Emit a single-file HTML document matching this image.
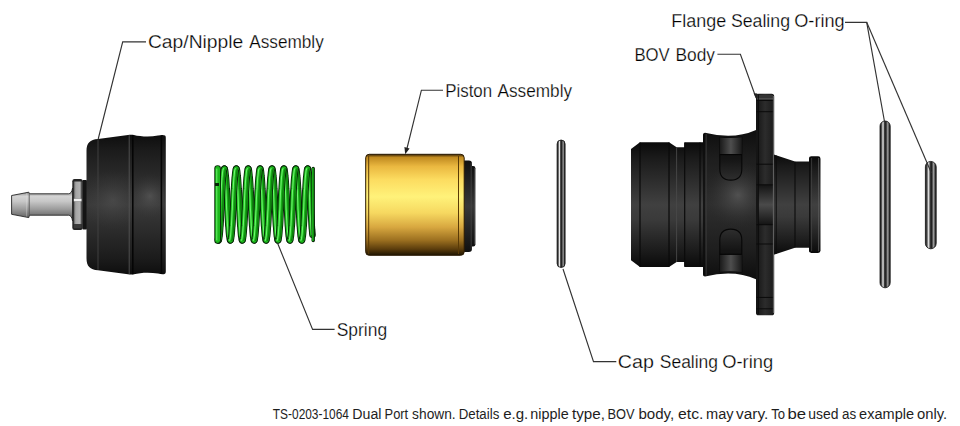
<!DOCTYPE html>
<html><head><meta charset="utf-8">
<style>
html,body{margin:0;padding:0;background:#fff;width:960px;height:426px;overflow:hidden}
svg{display:block}
#bottomtext text{stroke:none;fill:#1e1e1e}
text{font-family:"Liberation Sans",sans-serif;fill:#000;stroke:#fff;stroke-width:0.25px}
</style></head>
<body>
<svg width="960" height="426" viewBox="0 0 960 426">
<defs>
  <linearGradient id="gCap" x1="0" y1="0" x2="0" y2="1">
    <stop offset="0" stop-color="#0e0e0e"/>
    <stop offset="0.12" stop-color="#1c1c1c"/>
    <stop offset="0.5" stop-color="#3a3a3a"/>
    <stop offset="0.88" stop-color="#1c1c1c"/>
    <stop offset="1" stop-color="#0e0e0e"/>
  </linearGradient>
  <linearGradient id="gNip" x1="0" y1="0" x2="0" y2="1">
    <stop offset="0" stop-color="#3a3a3a"/>
    <stop offset="0.1" stop-color="#7a7a7a"/>
    <stop offset="0.25" stop-color="#d4d4d4"/>
    <stop offset="0.4" stop-color="#c8c8c8"/>
    <stop offset="0.65" stop-color="#9a9a9a"/>
    <stop offset="0.87" stop-color="#6a6a6a"/>
    <stop offset="1" stop-color="#383838"/>
  </linearGradient>
  <linearGradient id="gHex" x1="0" y1="0" x2="1" y2="0">
    <stop offset="0" stop-color="#5a5a5a"/>
    <stop offset="0.25" stop-color="#a4a4a4"/>
    <stop offset="0.75" stop-color="#b0b0b0"/>
    <stop offset="1" stop-color="#6a6a6a"/>
  </linearGradient>
  <linearGradient id="gGold" x1="0" y1="0" x2="0" y2="1">
    <stop offset="0" stop-color="#3a2404"/>
    <stop offset="0.03" stop-color="#c08a20"/>
    <stop offset="0.12" stop-color="#eab840"/>
    <stop offset="0.25" stop-color="#fcdc60"/>
    <stop offset="0.42" stop-color="#fff27a"/>
    <stop offset="0.58" stop-color="#f6d860"/>
    <stop offset="0.72" stop-color="#d8a840"/>
    <stop offset="0.85" stop-color="#9c7020"/>
    <stop offset="0.94" stop-color="#5a3c0c"/>
    <stop offset="1" stop-color="#1e1402"/>
  </linearGradient>
  <linearGradient id="gBlk" x1="0" y1="0" x2="0" y2="1">
    <stop offset="0" stop-color="#101010"/>
    <stop offset="0.5" stop-color="#383838"/>
    <stop offset="1" stop-color="#101010"/>
  </linearGradient>
  <linearGradient id="gRing" x1="0" y1="0" x2="1" y2="0">
    <stop offset="0" stop-color="#111"/>
    <stop offset="0.14" stop-color="#4a4a4a"/>
    <stop offset="0.3" stop-color="#e8e8e8"/>
    <stop offset="0.44" stop-color="#3a3a3a"/>
    <stop offset="0.58" stop-color="#1e1e1e"/>
    <stop offset="0.76" stop-color="#a0a0a0"/>
    <stop offset="0.9" stop-color="#3a3a3a"/>
    <stop offset="1" stop-color="#111"/>
  </linearGradient>
  <linearGradient id="gBov" x1="0" y1="0" x2="0" y2="1">
    <stop offset="0" stop-color="#0a0a0a"/>
    <stop offset="0.12" stop-color="#1a1a1a"/>
    <stop offset="0.5" stop-color="#404040"/>
    <stop offset="0.62" stop-color="#3a3a3a"/>
    <stop offset="0.88" stop-color="#1a1a1a"/>
    <stop offset="1" stop-color="#0a0a0a"/>
  </linearGradient>
  <linearGradient id="gBody" x1="0" y1="0" x2="0" y2="1">
    <stop offset="0" stop-color="#0e0e0e"/>
    <stop offset="0.2" stop-color="#1e1e1e"/>
    <stop offset="0.5" stop-color="#2e2e2e"/>
    <stop offset="0.8" stop-color="#1e1e1e"/>
    <stop offset="1" stop-color="#0e0e0e"/>
  </linearGradient>
  <radialGradient id="gBodyR" gradientUnits="userSpaceOnUse" cx="738" cy="195" r="34" fx="738" fy="195">
    <stop offset="0" stop-color="#6a6a6a" stop-opacity="0.6"/>
    <stop offset="0.5" stop-color="#505050" stop-opacity="0.3"/>
    <stop offset="1" stop-color="#303030" stop-opacity="0"/>
  </radialGradient>
  <linearGradient id="gLip" x1="0" y1="0" x2="1" y2="0">
    <stop offset="0" stop-color="#1a1a1a"/>
    <stop offset="0.5" stop-color="#4e4e4e"/>
    <stop offset="1" stop-color="#1a1a1a"/>
  </linearGradient>
  <linearGradient id="gFl" x1="0" y1="0" x2="1" y2="0">
    <stop offset="0" stop-color="#141414"/>
    <stop offset="0.5" stop-color="#2c2c2c"/>
    <stop offset="1" stop-color="#1a1a1a"/>
  </linearGradient>
  <linearGradient id="gBump" x1="0" y1="0" x2="0" y2="1">
    <stop offset="0" stop-color="#141414"/>
    <stop offset="0.5" stop-color="#4a4a4a"/>
    <stop offset="1" stop-color="#141414"/>
  </linearGradient>
  <linearGradient id="gHole" x1="0" y1="0" x2="0" y2="1">
    <stop offset="0" stop-color="#111"/>
    <stop offset="0.5" stop-color="#141414"/>
    <stop offset="1" stop-color="#2e2e2e"/>
  </linearGradient>
  <linearGradient id="gHole2" x1="0" y1="1" x2="0" y2="0">
    <stop offset="0" stop-color="#111"/>
    <stop offset="0.5" stop-color="#141414"/>
    <stop offset="1" stop-color="#2e2e2e"/>
  </linearGradient>
  <radialGradient id="gCapR1" gradientUnits="userSpaceOnUse" cx="113" cy="200" r="30">
    <stop offset="0" stop-color="#666" stop-opacity="0.35"/>
    <stop offset="1" stop-color="#444" stop-opacity="0"/>
  </radialGradient>
  <radialGradient id="gCapR2" gradientUnits="userSpaceOnUse" cx="150" cy="196" r="22">
    <stop offset="0" stop-color="#777" stop-opacity="0.4"/>
    <stop offset="1" stop-color="#444" stop-opacity="0"/>
  </radialGradient>
</defs>

<!-- ===== Labels ===== -->
<g id="labels" font-size="18">
  <text x="147.91" y="48.4" textLength="95.45" lengthAdjust="spacingAndGlyphs">Cap/Nipple</text>
  <text x="249.25" y="48.4" textLength="74.55" lengthAdjust="spacingAndGlyphs">Assembly</text>
  <text x="445.23" y="97.1" textLength="46.87" lengthAdjust="spacingAndGlyphs">Piston</text>
  <text x="497.55" y="97.1" textLength="74.50" lengthAdjust="spacingAndGlyphs">Assembly</text>
  <text x="634.44" y="60.9" textLength="35.34" lengthAdjust="spacingAndGlyphs">BOV</text>
  <text x="675.59" y="60.9" textLength="39.45" lengthAdjust="spacingAndGlyphs">Body</text>
  <text x="671.34" y="26.9" textLength="54.86" lengthAdjust="spacingAndGlyphs">Flange</text>
  <text x="730.89" y="26.9" textLength="59.15" lengthAdjust="spacingAndGlyphs">Sealing</text>
  <text x="794.24" y="26.9" textLength="50.42" lengthAdjust="spacingAndGlyphs">O-ring</text>
  <text x="336.70" y="335.6" textLength="50.43" lengthAdjust="spacingAndGlyphs">Spring</text>
  <text x="617.79" y="368.2" textLength="36.13" lengthAdjust="spacingAndGlyphs">Cap</text>
  <text x="659.80" y="368.2" textLength="58.22" lengthAdjust="spacingAndGlyphs">Sealing</text>
  <text x="722.24" y="368.2" textLength="50.83" lengthAdjust="spacingAndGlyphs">O-ring</text>
</g>
<g id="bottomtext" font-size="14">
  <text x="272.83" y="418.8" textLength="76.12" lengthAdjust="spacingAndGlyphs">TS-0203-1064</text>
  <text x="352.34" y="418.8" textLength="29.20" lengthAdjust="spacingAndGlyphs">Dual</text>
  <text x="384.55" y="418.8" textLength="23.66" lengthAdjust="spacingAndGlyphs">Port</text>
  <text x="412.11" y="418.8" textLength="43.55" lengthAdjust="spacingAndGlyphs">shown.</text>
  <text x="458.72" y="418.8" textLength="40.55" lengthAdjust="spacingAndGlyphs">Details</text>
  <text x="503.15" y="418.8" textLength="25.11" lengthAdjust="spacingAndGlyphs">e.g.</text>
  <text x="530.33" y="418.8" textLength="38.41" lengthAdjust="spacingAndGlyphs">nipple</text>
  <text x="572.06" y="418.8" textLength="32.90" lengthAdjust="spacingAndGlyphs">type,</text>
  <text x="607.45" y="418.8" textLength="27.11" lengthAdjust="spacingAndGlyphs">BOV</text>
  <text x="638.43" y="418.8" textLength="35.82" lengthAdjust="spacingAndGlyphs">body,</text>
  <text x="678.12" y="418.8" textLength="25.40" lengthAdjust="spacingAndGlyphs">etc.</text>
  <text x="706.02" y="418.8" textLength="27.53" lengthAdjust="spacingAndGlyphs">may</text>
  <text x="736.03" y="418.8" textLength="32.28" lengthAdjust="spacingAndGlyphs">vary.</text>
  <text x="771.30" y="418.8" textLength="13.85" lengthAdjust="spacingAndGlyphs">To</text>
  <text x="787.52" y="418.8" textLength="18.63" lengthAdjust="spacingAndGlyphs">be</text>
  <text x="808.21" y="418.8" textLength="30.19" lengthAdjust="spacingAndGlyphs">used</text>
  <text x="842.03" y="418.8" textLength="14.16" lengthAdjust="spacingAndGlyphs">as</text>
  <text x="859.08" y="418.8" textLength="54.96" lengthAdjust="spacingAndGlyphs">example</text>
  <text x="917.09" y="418.8" textLength="30.16" lengthAdjust="spacingAndGlyphs">only.</text>
</g>

<!-- ===== Cap / Nipple ===== -->
<g id="nipple">
  <path d="M11.6,195.5 L28.8,192.2 L29.4,193.8 L68.5,193.8 Q71.6,193.8 72.6,188 L72.6,221 Q71.6,215.2 68.5,215.2 L29.4,215.2 L28.8,217.6 L11.6,214.3 Z" fill="url(#gNip)" stroke="#262626" stroke-width="0.9"/>
  <path d="M29.2,194.2 L29.2,214.8" stroke="#4a4a4a" stroke-width="0.8"/>
  <path d="M26.4,193 L26.4,216.6" stroke="#e0e0e0" stroke-width="0.6" opacity="0.6"/>
  <rect x="72.3" y="179" width="10.4" height="51" rx="2.2" fill="#242424"/>
  <rect x="73.8" y="181.5" width="7.8" height="17.2" fill="url(#gHex)"/>
  <rect x="73.8" y="201.4" width="7.8" height="22.8" fill="url(#gHex)"/>
  <rect x="73.8" y="198.7" width="7.8" height="2.7" fill="#f2f2f2"/>
  <rect x="73.8" y="224.2" width="7.8" height="4" fill="#3a3a3a"/>
  <rect x="82.4" y="180" width="4.6" height="49.4" rx="1" fill="#141414"/>
</g>
<g id="cap">
  <path d="M86.5,151 C86.5,143 90,139.6 98,139 L128,135 C130,134.6 132,134.6 134,135 C140,136.6 150,137.2 158,135.6 C161,134.9 163.5,134.6 165,135.5 C165.8,136.2 165.8,137 165.8,138.5 L165.8,270.7 C165.8,272.2 165.8,273 165,273.7 C163.5,274.6 161,274.3 158,273.6 C150,272 140,272.6 134,274.2 C132,274.6 130,274.6 128,274.2 L98,270.2 C90,269.6 86.5,266.2 86.5,258.2 Z" fill="url(#gCap)"/>
  <rect x="87" y="150" width="45" height="110" fill="url(#gCapR1)"/>
  <rect x="134" y="150" width="30" height="100" fill="url(#gCapR2)"/>
  <path d="M98,139.5 L98,269.7" stroke="#444" stroke-width="0.9"/>
  <path d="M129.2,135.2 L129.2,274" stroke="#555" stroke-width="0.9"/>
  <path d="M132.8,135 L132.8,274.3" stroke="#050505" stroke-width="1.5"/>
  <path d="M161.4,135.3 L161.4,274" stroke="#050505" stroke-width="1.5"/>
</g>

<!-- ===== Spring ===== -->
<g id="spring" fill="none" stroke-linejoin="round" stroke-linecap="round">
  <path d="M218.0,239.4 L218.1,239.8 L218.2,240.1 L218.3,240.2 L218.5,240.3 M224.4,168.7 L224.5,168.8 L224.6,168.9 L224.7,169.2 L224.8,169.6 L225.0,170.0 L225.1,170.6 L225.2,171.3 L225.3,172.1 L225.4,173.0 L225.5,174.0 L225.6,175.0 L225.7,176.2 L225.9,177.5 L226.0,178.9 L226.1,180.3 L226.2,181.9 L226.3,183.5 L226.4,185.2 L226.5,187.0 L226.6,188.9 L226.8,190.9 L226.9,193.0 L227.0,195.2 L227.1,197.5 L227.2,199.9 L227.3,202.7 L227.4,206.3 L227.5,209.1 L227.7,211.5 L227.8,213.8 L227.9,216.0 L228.0,218.1 L228.1,220.1 L228.2,222.0 L228.3,223.8 L228.4,225.5 L228.6,227.1 L228.7,228.7 L228.8,230.1 L228.9,231.5 L229.0,232.8 L229.1,234.0 L229.2,235.0 L229.3,236.0 L229.5,236.9 L229.6,237.7 L229.7,238.4 L229.8,239.0 L229.9,239.4 L230.0,239.8 L230.1,240.1 L230.2,240.2 L230.3,240.3 M236.3,168.7 L236.4,168.8 L236.5,168.9 L236.6,169.2 L236.7,169.6 L236.9,170.0 L237.0,170.6 L237.1,171.3 L237.2,172.1 L237.3,173.0 L237.4,174.0 L237.5,175.0 L237.6,176.2 L237.8,177.5 L237.9,178.9 L238.0,180.3 L238.1,181.9 L238.2,183.5 L238.3,185.2 L238.4,187.0 L238.5,188.9 L238.7,190.9 L238.8,193.0 L238.9,195.2 L239.0,197.5 L239.1,199.9 L239.2,202.7 L239.3,206.3 L239.4,209.1 L239.6,211.5 L239.7,213.8 L239.8,216.0 L239.9,218.1 L240.0,220.1 L240.1,222.0 L240.2,223.8 L240.3,225.5 L240.5,227.1 L240.6,228.7 L240.7,230.1 L240.8,231.5 L240.9,232.8 L241.0,234.0 L241.1,235.0 L241.2,236.0 L241.4,236.9 L241.5,237.7 L241.6,238.4 L241.7,239.0 L241.8,239.4 L241.9,239.8 L242.0,240.1 L242.1,240.2 L242.2,240.3 M248.2,168.7 L248.3,168.8 L248.4,168.9 L248.5,169.2 L248.6,169.6 L248.8,170.0 L248.9,170.6 L249.0,171.3 L249.1,172.1 L249.2,173.0 L249.3,174.0 L249.4,175.0 L249.5,176.2 L249.7,177.5 L249.8,178.9 L249.9,180.3 L250.0,181.9 L250.1,183.5 L250.2,185.2 L250.3,187.0 L250.4,188.9 L250.6,190.9 L250.7,193.0 L250.8,195.2 L250.9,197.5 L251.0,199.9 L251.1,202.7 L251.2,206.3 L251.3,209.1 L251.5,211.5 L251.6,213.8 L251.7,216.0 L251.8,218.1 L251.9,220.1 L252.0,222.0 L252.1,223.8 L252.2,225.5 L252.4,227.1 L252.5,228.7 L252.6,230.1 L252.7,231.5 L252.8,232.8 L252.9,234.0 L253.0,235.0 L253.1,236.0 L253.3,236.9 L253.4,237.7 L253.5,238.4 L253.6,239.0 L253.7,239.4 L253.8,239.8 L253.9,240.1 L254.0,240.2 L254.2,240.3 M260.1,168.7 L260.2,168.8 L260.3,168.9 L260.4,169.2 L260.5,169.6 L260.7,170.0 L260.8,170.6 L260.9,171.3 L261.0,172.1 L261.1,173.0 L261.2,174.0 L261.3,175.0 L261.4,176.2 L261.6,177.5 L261.7,178.9 L261.8,180.3 L261.9,181.9 L262.0,183.5 L262.1,185.2 L262.2,187.0 L262.3,188.9 L262.5,190.9 L262.6,193.0 L262.7,195.2 L262.8,197.5 L262.9,199.9 L263.0,202.7 L263.1,206.3 L263.2,209.1 L263.4,211.5 L263.5,213.8 L263.6,216.0 L263.7,218.1 L263.8,220.1 L263.9,222.0 L264.0,223.8 L264.1,225.5 L264.3,227.1 L264.4,228.7 L264.5,230.1 L264.6,231.5 L264.7,232.8 L264.8,234.0 L264.9,235.0 L265.0,236.0 L265.2,236.9 L265.3,237.7 L265.4,238.4 L265.5,239.0 L265.6,239.4 L265.7,239.8 L265.8,240.1 L265.9,240.2 L266.1,240.3 M272.0,168.7 L272.1,168.8 L272.2,168.9 L272.3,169.2 L272.4,169.6 L272.6,170.0 L272.7,170.6 L272.8,171.3 L272.9,172.1 L273.0,173.0 L273.1,174.0 L273.2,175.0 L273.3,176.2 L273.5,177.5 L273.6,178.9 L273.7,180.3 L273.8,181.9 L273.9,183.5 L274.0,185.2 L274.1,187.0 L274.2,188.9 L274.4,190.9 L274.5,193.0 L274.6,195.2 L274.7,197.5 L274.8,199.9 L274.9,202.7 L275.0,206.3 L275.1,209.1 L275.3,211.5 L275.4,213.8 L275.5,216.0 L275.6,218.1 L275.7,220.1 L275.8,222.0 L275.9,223.8 L276.0,225.5 L276.2,227.1 L276.3,228.7 L276.4,230.1 L276.5,231.5 L276.6,232.8 L276.7,234.0 L276.8,235.0 L276.9,236.0 L277.1,236.9 L277.2,237.7 L277.3,238.4 L277.4,239.0 L277.5,239.4 L277.6,239.8 L277.7,240.1 L277.8,240.2 L277.9,240.3 M283.9,168.7 L284.0,168.8 L284.1,168.9 L284.2,169.2 L284.3,169.6 L284.5,170.0 L284.6,170.6 L284.7,171.3 L284.8,172.1 L284.9,173.0 L285.0,174.0 L285.1,175.0 L285.2,176.2 L285.4,177.5 L285.5,178.9 L285.6,180.3 L285.7,181.9 L285.8,183.5 L285.9,185.2 L286.0,187.0 L286.1,188.9 L286.3,190.9 L286.4,193.0 L286.5,195.2 L286.6,197.5 L286.7,199.9 L286.8,202.7 L286.9,206.3 L287.0,209.1 L287.2,211.5 L287.3,213.8 L287.4,216.0 L287.5,218.1 L287.6,220.1 L287.7,222.0 L287.8,223.8 L287.9,225.5 L288.1,227.1 L288.2,228.7 L288.3,230.1 L288.4,231.5 L288.5,232.8 L288.6,234.0 L288.7,235.0 L288.8,236.0 L289.0,236.9 L289.1,237.7 L289.2,238.4 L289.3,239.0 L289.4,239.4 L289.5,239.8 L289.6,240.1 L289.7,240.2 L289.9,240.3 M295.8,168.7 L295.9,168.8 L296.0,168.9 L296.1,169.2 L296.2,169.6 L296.4,170.0 L296.5,170.6 L296.6,171.3 L296.7,172.1 L296.8,173.0 L296.9,174.0 L297.0,175.0 L297.1,176.2 L297.3,177.5 L297.4,178.9 L297.5,180.3 L297.6,181.9 L297.7,183.5 L297.8,185.2 L297.9,187.0 L298.0,188.9 L298.2,190.9 L298.3,193.0 L298.4,195.2 L298.5,197.5 L298.6,199.9 L298.7,202.7 L298.8,206.3 L298.9,209.1 L299.1,211.5 L299.2,213.8 L299.3,216.0 L299.4,218.1 L299.5,220.1 L299.6,222.0 L299.7,223.8 L299.8,225.5 L300.0,227.1 L300.1,228.7 L300.2,230.1 L300.3,231.5 L300.4,232.8 L300.5,234.0 L300.6,235.0 L300.7,236.0 L300.9,236.9 L301.0,237.7 L301.1,238.4 L301.2,239.0 L301.3,239.4 L301.4,239.8 L301.5,240.1 L301.6,240.2 L301.8,240.3 M307.7,168.7 L307.8,168.8 L307.9,168.9 L308.0,169.2 L308.1,169.5 L308.3,170.0 L308.4,170.6 L308.5,171.3 L308.6,172.0 L308.7,172.9 L308.8,173.9 L308.9,175.0 L309.0,176.1 L309.2,177.4 L309.3,178.8 L309.4,180.2 L309.5,181.7 L309.6,183.3 L309.7,185.0 L309.8,186.8 L309.9,188.7 L310.0,190.7 L310.2,192.7 L310.3,194.9 L310.4,197.1 L310.5,199.6 L310.6,202.3 L310.7,205.8 L310.8,208.7 L310.9,211.1 L311.0,213.5 L311.2,215.7 L311.3,217.7 L311.4,219.7 L311.5,221.6 L311.6,223.4 L311.7,225.2 L311.8,226.8 L311.9,228.4 L312.1,229.8 L312.2,231.2 L312.3,232.5 L312.4,233.7 L312.5,234.8" stroke="#062406" stroke-width="6.6"/>
  <path d="M218.0,239.4 L218.1,239.8 L218.2,240.1 L218.3,240.2 L218.5,240.3 M224.4,168.7 L224.5,168.8 L224.6,168.9 L224.7,169.2 L224.8,169.6 L225.0,170.0 L225.1,170.6 L225.2,171.3 L225.3,172.1 L225.4,173.0 L225.5,174.0 L225.6,175.0 L225.7,176.2 L225.9,177.5 L226.0,178.9 L226.1,180.3 L226.2,181.9 L226.3,183.5 L226.4,185.2 L226.5,187.0 L226.6,188.9 L226.8,190.9 L226.9,193.0 L227.0,195.2 L227.1,197.5 L227.2,199.9 L227.3,202.7 L227.4,206.3 L227.5,209.1 L227.7,211.5 L227.8,213.8 L227.9,216.0 L228.0,218.1 L228.1,220.1 L228.2,222.0 L228.3,223.8 L228.4,225.5 L228.6,227.1 L228.7,228.7 L228.8,230.1 L228.9,231.5 L229.0,232.8 L229.1,234.0 L229.2,235.0 L229.3,236.0 L229.5,236.9 L229.6,237.7 L229.7,238.4 L229.8,239.0 L229.9,239.4 L230.0,239.8 L230.1,240.1 L230.2,240.2 L230.3,240.3 M236.3,168.7 L236.4,168.8 L236.5,168.9 L236.6,169.2 L236.7,169.6 L236.9,170.0 L237.0,170.6 L237.1,171.3 L237.2,172.1 L237.3,173.0 L237.4,174.0 L237.5,175.0 L237.6,176.2 L237.8,177.5 L237.9,178.9 L238.0,180.3 L238.1,181.9 L238.2,183.5 L238.3,185.2 L238.4,187.0 L238.5,188.9 L238.7,190.9 L238.8,193.0 L238.9,195.2 L239.0,197.5 L239.1,199.9 L239.2,202.7 L239.3,206.3 L239.4,209.1 L239.6,211.5 L239.7,213.8 L239.8,216.0 L239.9,218.1 L240.0,220.1 L240.1,222.0 L240.2,223.8 L240.3,225.5 L240.5,227.1 L240.6,228.7 L240.7,230.1 L240.8,231.5 L240.9,232.8 L241.0,234.0 L241.1,235.0 L241.2,236.0 L241.4,236.9 L241.5,237.7 L241.6,238.4 L241.7,239.0 L241.8,239.4 L241.9,239.8 L242.0,240.1 L242.1,240.2 L242.2,240.3 M248.2,168.7 L248.3,168.8 L248.4,168.9 L248.5,169.2 L248.6,169.6 L248.8,170.0 L248.9,170.6 L249.0,171.3 L249.1,172.1 L249.2,173.0 L249.3,174.0 L249.4,175.0 L249.5,176.2 L249.7,177.5 L249.8,178.9 L249.9,180.3 L250.0,181.9 L250.1,183.5 L250.2,185.2 L250.3,187.0 L250.4,188.9 L250.6,190.9 L250.7,193.0 L250.8,195.2 L250.9,197.5 L251.0,199.9 L251.1,202.7 L251.2,206.3 L251.3,209.1 L251.5,211.5 L251.6,213.8 L251.7,216.0 L251.8,218.1 L251.9,220.1 L252.0,222.0 L252.1,223.8 L252.2,225.5 L252.4,227.1 L252.5,228.7 L252.6,230.1 L252.7,231.5 L252.8,232.8 L252.9,234.0 L253.0,235.0 L253.1,236.0 L253.3,236.9 L253.4,237.7 L253.5,238.4 L253.6,239.0 L253.7,239.4 L253.8,239.8 L253.9,240.1 L254.0,240.2 L254.2,240.3 M260.1,168.7 L260.2,168.8 L260.3,168.9 L260.4,169.2 L260.5,169.6 L260.7,170.0 L260.8,170.6 L260.9,171.3 L261.0,172.1 L261.1,173.0 L261.2,174.0 L261.3,175.0 L261.4,176.2 L261.6,177.5 L261.7,178.9 L261.8,180.3 L261.9,181.9 L262.0,183.5 L262.1,185.2 L262.2,187.0 L262.3,188.9 L262.5,190.9 L262.6,193.0 L262.7,195.2 L262.8,197.5 L262.9,199.9 L263.0,202.7 L263.1,206.3 L263.2,209.1 L263.4,211.5 L263.5,213.8 L263.6,216.0 L263.7,218.1 L263.8,220.1 L263.9,222.0 L264.0,223.8 L264.1,225.5 L264.3,227.1 L264.4,228.7 L264.5,230.1 L264.6,231.5 L264.7,232.8 L264.8,234.0 L264.9,235.0 L265.0,236.0 L265.2,236.9 L265.3,237.7 L265.4,238.4 L265.5,239.0 L265.6,239.4 L265.7,239.8 L265.8,240.1 L265.9,240.2 L266.1,240.3 M272.0,168.7 L272.1,168.8 L272.2,168.9 L272.3,169.2 L272.4,169.6 L272.6,170.0 L272.7,170.6 L272.8,171.3 L272.9,172.1 L273.0,173.0 L273.1,174.0 L273.2,175.0 L273.3,176.2 L273.5,177.5 L273.6,178.9 L273.7,180.3 L273.8,181.9 L273.9,183.5 L274.0,185.2 L274.1,187.0 L274.2,188.9 L274.4,190.9 L274.5,193.0 L274.6,195.2 L274.7,197.5 L274.8,199.9 L274.9,202.7 L275.0,206.3 L275.1,209.1 L275.3,211.5 L275.4,213.8 L275.5,216.0 L275.6,218.1 L275.7,220.1 L275.8,222.0 L275.9,223.8 L276.0,225.5 L276.2,227.1 L276.3,228.7 L276.4,230.1 L276.5,231.5 L276.6,232.8 L276.7,234.0 L276.8,235.0 L276.9,236.0 L277.1,236.9 L277.2,237.7 L277.3,238.4 L277.4,239.0 L277.5,239.4 L277.6,239.8 L277.7,240.1 L277.8,240.2 L277.9,240.3 M283.9,168.7 L284.0,168.8 L284.1,168.9 L284.2,169.2 L284.3,169.6 L284.5,170.0 L284.6,170.6 L284.7,171.3 L284.8,172.1 L284.9,173.0 L285.0,174.0 L285.1,175.0 L285.2,176.2 L285.4,177.5 L285.5,178.9 L285.6,180.3 L285.7,181.9 L285.8,183.5 L285.9,185.2 L286.0,187.0 L286.1,188.9 L286.3,190.9 L286.4,193.0 L286.5,195.2 L286.6,197.5 L286.7,199.9 L286.8,202.7 L286.9,206.3 L287.0,209.1 L287.2,211.5 L287.3,213.8 L287.4,216.0 L287.5,218.1 L287.6,220.1 L287.7,222.0 L287.8,223.8 L287.9,225.5 L288.1,227.1 L288.2,228.7 L288.3,230.1 L288.4,231.5 L288.5,232.8 L288.6,234.0 L288.7,235.0 L288.8,236.0 L289.0,236.9 L289.1,237.7 L289.2,238.4 L289.3,239.0 L289.4,239.4 L289.5,239.8 L289.6,240.1 L289.7,240.2 L289.9,240.3 M295.8,168.7 L295.9,168.8 L296.0,168.9 L296.1,169.2 L296.2,169.6 L296.4,170.0 L296.5,170.6 L296.6,171.3 L296.7,172.1 L296.8,173.0 L296.9,174.0 L297.0,175.0 L297.1,176.2 L297.3,177.5 L297.4,178.9 L297.5,180.3 L297.6,181.9 L297.7,183.5 L297.8,185.2 L297.9,187.0 L298.0,188.9 L298.2,190.9 L298.3,193.0 L298.4,195.2 L298.5,197.5 L298.6,199.9 L298.7,202.7 L298.8,206.3 L298.9,209.1 L299.1,211.5 L299.2,213.8 L299.3,216.0 L299.4,218.1 L299.5,220.1 L299.6,222.0 L299.7,223.8 L299.8,225.5 L300.0,227.1 L300.1,228.7 L300.2,230.1 L300.3,231.5 L300.4,232.8 L300.5,234.0 L300.6,235.0 L300.7,236.0 L300.9,236.9 L301.0,237.7 L301.1,238.4 L301.2,239.0 L301.3,239.4 L301.4,239.8 L301.5,240.1 L301.6,240.2 L301.8,240.3 M307.7,168.7 L307.8,168.8 L307.9,168.9 L308.0,169.2 L308.1,169.5 L308.3,170.0 L308.4,170.6 L308.5,171.3 L308.6,172.0 L308.7,172.9 L308.8,173.9 L308.9,175.0 L309.0,176.1 L309.2,177.4 L309.3,178.8 L309.4,180.2 L309.5,181.7 L309.6,183.3 L309.7,185.0 L309.8,186.8 L309.9,188.7 L310.0,190.7 L310.2,192.7 L310.3,194.9 L310.4,197.1 L310.5,199.6 L310.6,202.3 L310.7,205.8 L310.8,208.7 L310.9,211.1 L311.0,213.5 L311.2,215.7 L311.3,217.7 L311.4,219.7 L311.5,221.6 L311.6,223.4 L311.7,225.2 L311.8,226.8 L311.9,228.4 L312.1,229.8 L312.2,231.2 L312.3,232.5 L312.4,233.7 L312.5,234.8" stroke="#1cb81c" stroke-width="4.8"/>
  <path d="M218.0,239.4 L218.1,239.8 L218.2,240.1 L218.3,240.2 L218.5,240.3 M224.4,168.7 L224.5,168.8 L224.6,168.9 L224.7,169.2 L224.8,169.6 L225.0,170.0 L225.1,170.6 L225.2,171.3 L225.3,172.1 L225.4,173.0 L225.5,174.0 L225.6,175.0 L225.7,176.2 L225.9,177.5 L226.0,178.9 L226.1,180.3 L226.2,181.9 L226.3,183.5 L226.4,185.2 L226.5,187.0 L226.6,188.9 L226.8,190.9 L226.9,193.0 L227.0,195.2 L227.1,197.5 L227.2,199.9 L227.3,202.7 L227.4,206.3 L227.5,209.1 L227.7,211.5 L227.8,213.8 L227.9,216.0 L228.0,218.1 L228.1,220.1 L228.2,222.0 L228.3,223.8 L228.4,225.5 L228.6,227.1 L228.7,228.7 L228.8,230.1 L228.9,231.5 L229.0,232.8 L229.1,234.0 L229.2,235.0 L229.3,236.0 L229.5,236.9 L229.6,237.7 L229.7,238.4 L229.8,239.0 L229.9,239.4 L230.0,239.8 L230.1,240.1 L230.2,240.2 L230.3,240.3 M236.3,168.7 L236.4,168.8 L236.5,168.9 L236.6,169.2 L236.7,169.6 L236.9,170.0 L237.0,170.6 L237.1,171.3 L237.2,172.1 L237.3,173.0 L237.4,174.0 L237.5,175.0 L237.6,176.2 L237.8,177.5 L237.9,178.9 L238.0,180.3 L238.1,181.9 L238.2,183.5 L238.3,185.2 L238.4,187.0 L238.5,188.9 L238.7,190.9 L238.8,193.0 L238.9,195.2 L239.0,197.5 L239.1,199.9 L239.2,202.7 L239.3,206.3 L239.4,209.1 L239.6,211.5 L239.7,213.8 L239.8,216.0 L239.9,218.1 L240.0,220.1 L240.1,222.0 L240.2,223.8 L240.3,225.5 L240.5,227.1 L240.6,228.7 L240.7,230.1 L240.8,231.5 L240.9,232.8 L241.0,234.0 L241.1,235.0 L241.2,236.0 L241.4,236.9 L241.5,237.7 L241.6,238.4 L241.7,239.0 L241.8,239.4 L241.9,239.8 L242.0,240.1 L242.1,240.2 L242.2,240.3 M248.2,168.7 L248.3,168.8 L248.4,168.9 L248.5,169.2 L248.6,169.6 L248.8,170.0 L248.9,170.6 L249.0,171.3 L249.1,172.1 L249.2,173.0 L249.3,174.0 L249.4,175.0 L249.5,176.2 L249.7,177.5 L249.8,178.9 L249.9,180.3 L250.0,181.9 L250.1,183.5 L250.2,185.2 L250.3,187.0 L250.4,188.9 L250.6,190.9 L250.7,193.0 L250.8,195.2 L250.9,197.5 L251.0,199.9 L251.1,202.7 L251.2,206.3 L251.3,209.1 L251.5,211.5 L251.6,213.8 L251.7,216.0 L251.8,218.1 L251.9,220.1 L252.0,222.0 L252.1,223.8 L252.2,225.5 L252.4,227.1 L252.5,228.7 L252.6,230.1 L252.7,231.5 L252.8,232.8 L252.9,234.0 L253.0,235.0 L253.1,236.0 L253.3,236.9 L253.4,237.7 L253.5,238.4 L253.6,239.0 L253.7,239.4 L253.8,239.8 L253.9,240.1 L254.0,240.2 L254.2,240.3 M260.1,168.7 L260.2,168.8 L260.3,168.9 L260.4,169.2 L260.5,169.6 L260.7,170.0 L260.8,170.6 L260.9,171.3 L261.0,172.1 L261.1,173.0 L261.2,174.0 L261.3,175.0 L261.4,176.2 L261.6,177.5 L261.7,178.9 L261.8,180.3 L261.9,181.9 L262.0,183.5 L262.1,185.2 L262.2,187.0 L262.3,188.9 L262.5,190.9 L262.6,193.0 L262.7,195.2 L262.8,197.5 L262.9,199.9 L263.0,202.7 L263.1,206.3 L263.2,209.1 L263.4,211.5 L263.5,213.8 L263.6,216.0 L263.7,218.1 L263.8,220.1 L263.9,222.0 L264.0,223.8 L264.1,225.5 L264.3,227.1 L264.4,228.7 L264.5,230.1 L264.6,231.5 L264.7,232.8 L264.8,234.0 L264.9,235.0 L265.0,236.0 L265.2,236.9 L265.3,237.7 L265.4,238.4 L265.5,239.0 L265.6,239.4 L265.7,239.8 L265.8,240.1 L265.9,240.2 L266.1,240.3 M272.0,168.7 L272.1,168.8 L272.2,168.9 L272.3,169.2 L272.4,169.6 L272.6,170.0 L272.7,170.6 L272.8,171.3 L272.9,172.1 L273.0,173.0 L273.1,174.0 L273.2,175.0 L273.3,176.2 L273.5,177.5 L273.6,178.9 L273.7,180.3 L273.8,181.9 L273.9,183.5 L274.0,185.2 L274.1,187.0 L274.2,188.9 L274.4,190.9 L274.5,193.0 L274.6,195.2 L274.7,197.5 L274.8,199.9 L274.9,202.7 L275.0,206.3 L275.1,209.1 L275.3,211.5 L275.4,213.8 L275.5,216.0 L275.6,218.1 L275.7,220.1 L275.8,222.0 L275.9,223.8 L276.0,225.5 L276.2,227.1 L276.3,228.7 L276.4,230.1 L276.5,231.5 L276.6,232.8 L276.7,234.0 L276.8,235.0 L276.9,236.0 L277.1,236.9 L277.2,237.7 L277.3,238.4 L277.4,239.0 L277.5,239.4 L277.6,239.8 L277.7,240.1 L277.8,240.2 L277.9,240.3 M283.9,168.7 L284.0,168.8 L284.1,168.9 L284.2,169.2 L284.3,169.6 L284.5,170.0 L284.6,170.6 L284.7,171.3 L284.8,172.1 L284.9,173.0 L285.0,174.0 L285.1,175.0 L285.2,176.2 L285.4,177.5 L285.5,178.9 L285.6,180.3 L285.7,181.9 L285.8,183.5 L285.9,185.2 L286.0,187.0 L286.1,188.9 L286.3,190.9 L286.4,193.0 L286.5,195.2 L286.6,197.5 L286.7,199.9 L286.8,202.7 L286.9,206.3 L287.0,209.1 L287.2,211.5 L287.3,213.8 L287.4,216.0 L287.5,218.1 L287.6,220.1 L287.7,222.0 L287.8,223.8 L287.9,225.5 L288.1,227.1 L288.2,228.7 L288.3,230.1 L288.4,231.5 L288.5,232.8 L288.6,234.0 L288.7,235.0 L288.8,236.0 L289.0,236.9 L289.1,237.7 L289.2,238.4 L289.3,239.0 L289.4,239.4 L289.5,239.8 L289.6,240.1 L289.7,240.2 L289.9,240.3 M295.8,168.7 L295.9,168.8 L296.0,168.9 L296.1,169.2 L296.2,169.6 L296.4,170.0 L296.5,170.6 L296.6,171.3 L296.7,172.1 L296.8,173.0 L296.9,174.0 L297.0,175.0 L297.1,176.2 L297.3,177.5 L297.4,178.9 L297.5,180.3 L297.6,181.9 L297.7,183.5 L297.8,185.2 L297.9,187.0 L298.0,188.9 L298.2,190.9 L298.3,193.0 L298.4,195.2 L298.5,197.5 L298.6,199.9 L298.7,202.7 L298.8,206.3 L298.9,209.1 L299.1,211.5 L299.2,213.8 L299.3,216.0 L299.4,218.1 L299.5,220.1 L299.6,222.0 L299.7,223.8 L299.8,225.5 L300.0,227.1 L300.1,228.7 L300.2,230.1 L300.3,231.5 L300.4,232.8 L300.5,234.0 L300.6,235.0 L300.7,236.0 L300.9,236.9 L301.0,237.7 L301.1,238.4 L301.2,239.0 L301.3,239.4 L301.4,239.8 L301.5,240.1 L301.6,240.2 L301.8,240.3 M307.7,168.7 L307.8,168.8 L307.9,168.9 L308.0,169.2 L308.1,169.5 L308.3,170.0 L308.4,170.6 L308.5,171.3 L308.6,172.0 L308.7,172.9 L308.8,173.9 L308.9,175.0 L309.0,176.1 L309.2,177.4 L309.3,178.8 L309.4,180.2 L309.5,181.7 L309.6,183.3 L309.7,185.0 L309.8,186.8 L309.9,188.7 L310.0,190.7 L310.2,192.7 L310.3,194.9 L310.4,197.1 L310.5,199.6 L310.6,202.3 L310.7,205.8 L310.8,208.7 L310.9,211.1 L311.0,213.5 L311.2,215.7 L311.3,217.7 L311.4,219.7 L311.5,221.6 L311.6,223.4 L311.7,225.2 L311.8,226.8 L311.9,228.4 L312.1,229.8 L312.2,231.2 L312.3,232.5 L312.4,233.7 L312.5,234.8" stroke="#0e800e" stroke-width="1.4" transform="translate(1.5,0)"/>
  <path d="M218.0,239.4 L218.1,239.8 L218.2,240.1 L218.3,240.2 L218.5,240.3 M224.4,168.7 L224.5,168.8 L224.6,168.9 L224.7,169.2 L224.8,169.6 L225.0,170.0 L225.1,170.6 L225.2,171.3 L225.3,172.1 L225.4,173.0 L225.5,174.0 L225.6,175.0 L225.7,176.2 L225.9,177.5 L226.0,178.9 L226.1,180.3 L226.2,181.9 L226.3,183.5 L226.4,185.2 L226.5,187.0 L226.6,188.9 L226.8,190.9 L226.9,193.0 L227.0,195.2 L227.1,197.5 L227.2,199.9 L227.3,202.7 L227.4,206.3 L227.5,209.1 L227.7,211.5 L227.8,213.8 L227.9,216.0 L228.0,218.1 L228.1,220.1 L228.2,222.0 L228.3,223.8 L228.4,225.5 L228.6,227.1 L228.7,228.7 L228.8,230.1 L228.9,231.5 L229.0,232.8 L229.1,234.0 L229.2,235.0 L229.3,236.0 L229.5,236.9 L229.6,237.7 L229.7,238.4 L229.8,239.0 L229.9,239.4 L230.0,239.8 L230.1,240.1 L230.2,240.2 L230.3,240.3 M236.3,168.7 L236.4,168.8 L236.5,168.9 L236.6,169.2 L236.7,169.6 L236.9,170.0 L237.0,170.6 L237.1,171.3 L237.2,172.1 L237.3,173.0 L237.4,174.0 L237.5,175.0 L237.6,176.2 L237.8,177.5 L237.9,178.9 L238.0,180.3 L238.1,181.9 L238.2,183.5 L238.3,185.2 L238.4,187.0 L238.5,188.9 L238.7,190.9 L238.8,193.0 L238.9,195.2 L239.0,197.5 L239.1,199.9 L239.2,202.7 L239.3,206.3 L239.4,209.1 L239.6,211.5 L239.7,213.8 L239.8,216.0 L239.9,218.1 L240.0,220.1 L240.1,222.0 L240.2,223.8 L240.3,225.5 L240.5,227.1 L240.6,228.7 L240.7,230.1 L240.8,231.5 L240.9,232.8 L241.0,234.0 L241.1,235.0 L241.2,236.0 L241.4,236.9 L241.5,237.7 L241.6,238.4 L241.7,239.0 L241.8,239.4 L241.9,239.8 L242.0,240.1 L242.1,240.2 L242.2,240.3 M248.2,168.7 L248.3,168.8 L248.4,168.9 L248.5,169.2 L248.6,169.6 L248.8,170.0 L248.9,170.6 L249.0,171.3 L249.1,172.1 L249.2,173.0 L249.3,174.0 L249.4,175.0 L249.5,176.2 L249.7,177.5 L249.8,178.9 L249.9,180.3 L250.0,181.9 L250.1,183.5 L250.2,185.2 L250.3,187.0 L250.4,188.9 L250.6,190.9 L250.7,193.0 L250.8,195.2 L250.9,197.5 L251.0,199.9 L251.1,202.7 L251.2,206.3 L251.3,209.1 L251.5,211.5 L251.6,213.8 L251.7,216.0 L251.8,218.1 L251.9,220.1 L252.0,222.0 L252.1,223.8 L252.2,225.5 L252.4,227.1 L252.5,228.7 L252.6,230.1 L252.7,231.5 L252.8,232.8 L252.9,234.0 L253.0,235.0 L253.1,236.0 L253.3,236.9 L253.4,237.7 L253.5,238.4 L253.6,239.0 L253.7,239.4 L253.8,239.8 L253.9,240.1 L254.0,240.2 L254.2,240.3 M260.1,168.7 L260.2,168.8 L260.3,168.9 L260.4,169.2 L260.5,169.6 L260.7,170.0 L260.8,170.6 L260.9,171.3 L261.0,172.1 L261.1,173.0 L261.2,174.0 L261.3,175.0 L261.4,176.2 L261.6,177.5 L261.7,178.9 L261.8,180.3 L261.9,181.9 L262.0,183.5 L262.1,185.2 L262.2,187.0 L262.3,188.9 L262.5,190.9 L262.6,193.0 L262.7,195.2 L262.8,197.5 L262.9,199.9 L263.0,202.7 L263.1,206.3 L263.2,209.1 L263.4,211.5 L263.5,213.8 L263.6,216.0 L263.7,218.1 L263.8,220.1 L263.9,222.0 L264.0,223.8 L264.1,225.5 L264.3,227.1 L264.4,228.7 L264.5,230.1 L264.6,231.5 L264.7,232.8 L264.8,234.0 L264.9,235.0 L265.0,236.0 L265.2,236.9 L265.3,237.7 L265.4,238.4 L265.5,239.0 L265.6,239.4 L265.7,239.8 L265.8,240.1 L265.9,240.2 L266.1,240.3 M272.0,168.7 L272.1,168.8 L272.2,168.9 L272.3,169.2 L272.4,169.6 L272.6,170.0 L272.7,170.6 L272.8,171.3 L272.9,172.1 L273.0,173.0 L273.1,174.0 L273.2,175.0 L273.3,176.2 L273.5,177.5 L273.6,178.9 L273.7,180.3 L273.8,181.9 L273.9,183.5 L274.0,185.2 L274.1,187.0 L274.2,188.9 L274.4,190.9 L274.5,193.0 L274.6,195.2 L274.7,197.5 L274.8,199.9 L274.9,202.7 L275.0,206.3 L275.1,209.1 L275.3,211.5 L275.4,213.8 L275.5,216.0 L275.6,218.1 L275.7,220.1 L275.8,222.0 L275.9,223.8 L276.0,225.5 L276.2,227.1 L276.3,228.7 L276.4,230.1 L276.5,231.5 L276.6,232.8 L276.7,234.0 L276.8,235.0 L276.9,236.0 L277.1,236.9 L277.2,237.7 L277.3,238.4 L277.4,239.0 L277.5,239.4 L277.6,239.8 L277.7,240.1 L277.8,240.2 L277.9,240.3 M283.9,168.7 L284.0,168.8 L284.1,168.9 L284.2,169.2 L284.3,169.6 L284.5,170.0 L284.6,170.6 L284.7,171.3 L284.8,172.1 L284.9,173.0 L285.0,174.0 L285.1,175.0 L285.2,176.2 L285.4,177.5 L285.5,178.9 L285.6,180.3 L285.7,181.9 L285.8,183.5 L285.9,185.2 L286.0,187.0 L286.1,188.9 L286.3,190.9 L286.4,193.0 L286.5,195.2 L286.6,197.5 L286.7,199.9 L286.8,202.7 L286.9,206.3 L287.0,209.1 L287.2,211.5 L287.3,213.8 L287.4,216.0 L287.5,218.1 L287.6,220.1 L287.7,222.0 L287.8,223.8 L287.9,225.5 L288.1,227.1 L288.2,228.7 L288.3,230.1 L288.4,231.5 L288.5,232.8 L288.6,234.0 L288.7,235.0 L288.8,236.0 L289.0,236.9 L289.1,237.7 L289.2,238.4 L289.3,239.0 L289.4,239.4 L289.5,239.8 L289.6,240.1 L289.7,240.2 L289.9,240.3 M295.8,168.7 L295.9,168.8 L296.0,168.9 L296.1,169.2 L296.2,169.6 L296.4,170.0 L296.5,170.6 L296.6,171.3 L296.7,172.1 L296.8,173.0 L296.9,174.0 L297.0,175.0 L297.1,176.2 L297.3,177.5 L297.4,178.9 L297.5,180.3 L297.6,181.9 L297.7,183.5 L297.8,185.2 L297.9,187.0 L298.0,188.9 L298.2,190.9 L298.3,193.0 L298.4,195.2 L298.5,197.5 L298.6,199.9 L298.7,202.7 L298.8,206.3 L298.9,209.1 L299.1,211.5 L299.2,213.8 L299.3,216.0 L299.4,218.1 L299.5,220.1 L299.6,222.0 L299.7,223.8 L299.8,225.5 L300.0,227.1 L300.1,228.7 L300.2,230.1 L300.3,231.5 L300.4,232.8 L300.5,234.0 L300.6,235.0 L300.7,236.0 L300.9,236.9 L301.0,237.7 L301.1,238.4 L301.2,239.0 L301.3,239.4 L301.4,239.8 L301.5,240.1 L301.6,240.2 L301.8,240.3 M307.7,168.7 L307.8,168.8 L307.9,168.9 L308.0,169.2 L308.1,169.5 L308.3,170.0 L308.4,170.6 L308.5,171.3 L308.6,172.0 L308.7,172.9 L308.8,173.9 L308.9,175.0 L309.0,176.1 L309.2,177.4 L309.3,178.8 L309.4,180.2 L309.5,181.7 L309.6,183.3 L309.7,185.0 L309.8,186.8 L309.9,188.7 L310.0,190.7 L310.2,192.7 L310.3,194.9 L310.4,197.1 L310.5,199.6 L310.6,202.3 L310.7,205.8 L310.8,208.7 L310.9,211.1 L311.0,213.5 L311.2,215.7 L311.3,217.7 L311.4,219.7 L311.5,221.6 L311.6,223.4 L311.7,225.2 L311.8,226.8 L311.9,228.4 L312.1,229.8 L312.2,231.2 L312.3,232.5 L312.4,233.7 L312.5,234.8" stroke="#70f470" stroke-width="1.1" transform="translate(-0.9,0)"/>
  <path d="M218.5,240.3 L218.6,240.2 L218.7,240.1 L218.8,239.8 L218.9,239.4 L219.0,239.0 L219.1,238.4 L219.2,237.7 L219.3,236.9 L219.5,236.0 L219.6,235.0 L219.7,234.0 L219.8,232.8 L219.9,231.5 L220.0,230.1 L220.1,228.7 L220.2,227.1 L220.4,225.5 L220.5,223.8 L220.6,222.0 L220.7,220.1 L220.8,218.1 L220.9,216.0 L221.0,213.8 L221.1,211.5 L221.3,209.1 L221.4,206.3 L221.5,202.7 L221.6,199.9 L221.7,197.5 L221.8,195.2 L221.9,193.0 L222.0,190.9 L222.2,188.9 L222.3,187.0 L222.4,185.2 L222.5,183.5 L222.6,181.9 L222.7,180.3 L222.8,178.9 L222.9,177.5 L223.1,176.2 L223.2,175.0 L223.3,174.0 L223.4,173.0 L223.5,172.1 L223.6,171.3 L223.7,170.6 L223.8,170.0 L224.0,169.6 L224.1,169.2 L224.2,168.9 L224.3,168.8 L224.4,168.7 M230.3,240.3 L230.5,240.2 L230.6,240.1 L230.7,239.8 L230.8,239.4 L230.9,239.0 L231.0,238.4 L231.1,237.7 L231.2,236.9 L231.4,236.0 L231.5,235.0 L231.6,234.0 L231.7,232.8 L231.8,231.5 L231.9,230.1 L232.0,228.7 L232.1,227.1 L232.3,225.5 L232.4,223.8 L232.5,222.0 L232.6,220.1 L232.7,218.1 L232.8,216.0 L232.9,213.8 L233.0,211.5 L233.2,209.1 L233.3,206.3 L233.4,202.7 L233.5,199.9 L233.6,197.5 L233.7,195.2 L233.8,193.0 L233.9,190.9 L234.1,188.9 L234.2,187.0 L234.3,185.2 L234.4,183.5 L234.5,181.9 L234.6,180.3 L234.7,178.9 L234.8,177.5 L235.0,176.2 L235.1,175.0 L235.2,174.0 L235.3,173.0 L235.4,172.1 L235.5,171.3 L235.6,170.6 L235.7,170.0 L235.9,169.6 L236.0,169.2 L236.1,168.9 L236.2,168.8 L236.3,168.7 M242.2,240.3 L242.4,240.2 L242.5,240.1 L242.6,239.8 L242.7,239.4 L242.8,239.0 L242.9,238.4 L243.0,237.7 L243.1,236.9 L243.3,236.0 L243.4,235.0 L243.5,234.0 L243.6,232.8 L243.7,231.5 L243.8,230.1 L243.9,228.7 L244.0,227.1 L244.2,225.5 L244.3,223.8 L244.4,222.0 L244.5,220.1 L244.6,218.1 L244.7,216.0 L244.8,213.8 L244.9,211.5 L245.1,209.1 L245.2,206.3 L245.3,202.7 L245.4,199.9 L245.5,197.5 L245.6,195.2 L245.7,193.0 L245.8,190.9 L246.0,188.9 L246.1,187.0 L246.2,185.2 L246.3,183.5 L246.4,181.9 L246.5,180.3 L246.6,178.9 L246.7,177.5 L246.9,176.2 L247.0,175.0 L247.1,174.0 L247.2,173.0 L247.3,172.1 L247.4,171.3 L247.5,170.6 L247.6,170.0 L247.8,169.6 L247.9,169.2 L248.0,168.9 L248.1,168.8 L248.2,168.7 M254.2,240.3 L254.3,240.2 L254.4,240.1 L254.5,239.8 L254.6,239.4 L254.7,239.0 L254.8,238.4 L254.9,237.7 L255.0,236.9 L255.2,236.0 L255.3,235.0 L255.4,234.0 L255.5,232.8 L255.6,231.5 L255.7,230.1 L255.8,228.7 L255.9,227.1 L256.1,225.5 L256.2,223.8 L256.3,222.0 L256.4,220.1 L256.5,218.1 L256.6,216.0 L256.7,213.8 L256.8,211.5 L257.0,209.1 L257.1,206.3 L257.2,202.7 L257.3,199.9 L257.4,197.5 L257.5,195.2 L257.6,193.0 L257.7,190.9 L257.9,188.9 L258.0,187.0 L258.1,185.2 L258.2,183.5 L258.3,181.9 L258.4,180.3 L258.5,178.9 L258.6,177.5 L258.8,176.2 L258.9,175.0 L259.0,174.0 L259.1,173.0 L259.2,172.1 L259.3,171.3 L259.4,170.6 L259.5,170.0 L259.7,169.6 L259.8,169.2 L259.9,168.9 L260.0,168.8 L260.1,168.7 M266.1,240.3 L266.2,240.2 L266.3,240.1 L266.4,239.8 L266.5,239.4 L266.6,239.0 L266.7,238.4 L266.8,237.7 L266.9,236.9 L267.1,236.0 L267.2,235.0 L267.3,234.0 L267.4,232.8 L267.5,231.5 L267.6,230.1 L267.7,228.7 L267.8,227.1 L268.0,225.5 L268.1,223.8 L268.2,222.0 L268.3,220.1 L268.4,218.1 L268.5,216.0 L268.6,213.8 L268.7,211.5 L268.9,209.1 L269.0,206.3 L269.1,202.7 L269.2,199.9 L269.3,197.5 L269.4,195.2 L269.5,193.0 L269.6,190.9 L269.8,188.9 L269.9,187.0 L270.0,185.2 L270.1,183.5 L270.2,181.9 L270.3,180.3 L270.4,178.9 L270.5,177.5 L270.7,176.2 L270.8,175.0 L270.9,174.0 L271.0,173.0 L271.1,172.1 L271.2,171.3 L271.3,170.6 L271.4,170.0 L271.6,169.6 L271.7,169.2 L271.8,168.9 L271.9,168.8 L272.0,168.7 M277.9,240.3 L278.1,240.2 L278.2,240.1 L278.3,239.8 L278.4,239.4 L278.5,239.0 L278.6,238.4 L278.7,237.7 L278.8,236.9 L279.0,236.0 L279.1,235.0 L279.2,234.0 L279.3,232.8 L279.4,231.5 L279.5,230.1 L279.6,228.7 L279.7,227.1 L279.9,225.5 L280.0,223.8 L280.1,222.0 L280.2,220.1 L280.3,218.1 L280.4,216.0 L280.5,213.8 L280.6,211.5 L280.8,209.1 L280.9,206.3 L281.0,202.7 L281.1,199.9 L281.2,197.5 L281.3,195.2 L281.4,193.0 L281.5,190.9 L281.7,188.9 L281.8,187.0 L281.9,185.2 L282.0,183.5 L282.1,181.9 L282.2,180.3 L282.3,178.9 L282.4,177.5 L282.6,176.2 L282.7,175.0 L282.8,174.0 L282.9,173.0 L283.0,172.1 L283.1,171.3 L283.2,170.6 L283.3,170.0 L283.5,169.6 L283.6,169.2 L283.7,168.9 L283.8,168.8 L283.9,168.7 M289.9,240.3 L290.0,240.2 L290.1,240.1 L290.2,239.8 L290.3,239.4 L290.4,239.0 L290.5,238.4 L290.6,237.7 L290.7,236.9 L290.9,236.0 L291.0,235.0 L291.1,234.0 L291.2,232.8 L291.3,231.5 L291.4,230.1 L291.5,228.7 L291.6,227.1 L291.8,225.5 L291.9,223.8 L292.0,222.0 L292.1,220.1 L292.2,218.1 L292.3,216.0 L292.4,213.8 L292.5,211.5 L292.7,209.1 L292.8,206.3 L292.9,202.7 L293.0,199.9 L293.1,197.5 L293.2,195.2 L293.3,193.0 L293.4,190.9 L293.6,188.9 L293.7,187.0 L293.8,185.2 L293.9,183.5 L294.0,181.9 L294.1,180.3 L294.2,178.9 L294.3,177.5 L294.5,176.2 L294.6,175.0 L294.7,174.0 L294.8,173.0 L294.9,172.1 L295.0,171.3 L295.1,170.6 L295.2,170.0 L295.4,169.6 L295.5,169.2 L295.6,168.9 L295.7,168.8 L295.8,168.7 M301.8,240.3 L301.9,240.2 L302.0,240.1 L302.1,239.8 L302.2,239.4 L302.3,239.0 L302.4,238.4 L302.5,237.7 L302.6,236.9 L302.8,236.0 L302.9,235.0 L303.0,234.0 L303.1,232.8 L303.2,231.5 L303.3,230.1 L303.4,228.7 L303.5,227.1 L303.7,225.5 L303.8,223.8 L303.9,222.0 L304.0,220.1 L304.1,218.1 L304.2,216.0 L304.3,213.8 L304.4,211.5 L304.6,209.1 L304.7,206.3 L304.8,202.7 L304.9,199.9 L305.0,197.5 L305.1,195.2 L305.2,193.0 L305.3,190.9 L305.5,188.9 L305.6,187.0 L305.7,185.2 L305.8,183.5 L305.9,181.9 L306.0,180.3 L306.1,178.9 L306.2,177.5 L306.4,176.2 L306.5,175.0 L306.6,174.0 L306.7,173.0 L306.8,172.1 L306.9,171.3 L307.0,170.6 L307.1,170.0 L307.3,169.6 L307.4,169.2 L307.5,168.9 L307.6,168.8 L307.7,168.7" stroke="#062406" stroke-width="6.6"/>
  <path d="M218.5,240.3 L218.6,240.2 L218.7,240.1 L218.8,239.8 L218.9,239.4 L219.0,239.0 L219.1,238.4 L219.2,237.7 L219.3,236.9 L219.5,236.0 L219.6,235.0 L219.7,234.0 L219.8,232.8 L219.9,231.5 L220.0,230.1 L220.1,228.7 L220.2,227.1 L220.4,225.5 L220.5,223.8 L220.6,222.0 L220.7,220.1 L220.8,218.1 L220.9,216.0 L221.0,213.8 L221.1,211.5 L221.3,209.1 L221.4,206.3 L221.5,202.7 L221.6,199.9 L221.7,197.5 L221.8,195.2 L221.9,193.0 L222.0,190.9 L222.2,188.9 L222.3,187.0 L222.4,185.2 L222.5,183.5 L222.6,181.9 L222.7,180.3 L222.8,178.9 L222.9,177.5 L223.1,176.2 L223.2,175.0 L223.3,174.0 L223.4,173.0 L223.5,172.1 L223.6,171.3 L223.7,170.6 L223.8,170.0 L224.0,169.6 L224.1,169.2 L224.2,168.9 L224.3,168.8 L224.4,168.7 M230.3,240.3 L230.5,240.2 L230.6,240.1 L230.7,239.8 L230.8,239.4 L230.9,239.0 L231.0,238.4 L231.1,237.7 L231.2,236.9 L231.4,236.0 L231.5,235.0 L231.6,234.0 L231.7,232.8 L231.8,231.5 L231.9,230.1 L232.0,228.7 L232.1,227.1 L232.3,225.5 L232.4,223.8 L232.5,222.0 L232.6,220.1 L232.7,218.1 L232.8,216.0 L232.9,213.8 L233.0,211.5 L233.2,209.1 L233.3,206.3 L233.4,202.7 L233.5,199.9 L233.6,197.5 L233.7,195.2 L233.8,193.0 L233.9,190.9 L234.1,188.9 L234.2,187.0 L234.3,185.2 L234.4,183.5 L234.5,181.9 L234.6,180.3 L234.7,178.9 L234.8,177.5 L235.0,176.2 L235.1,175.0 L235.2,174.0 L235.3,173.0 L235.4,172.1 L235.5,171.3 L235.6,170.6 L235.7,170.0 L235.9,169.6 L236.0,169.2 L236.1,168.9 L236.2,168.8 L236.3,168.7 M242.2,240.3 L242.4,240.2 L242.5,240.1 L242.6,239.8 L242.7,239.4 L242.8,239.0 L242.9,238.4 L243.0,237.7 L243.1,236.9 L243.3,236.0 L243.4,235.0 L243.5,234.0 L243.6,232.8 L243.7,231.5 L243.8,230.1 L243.9,228.7 L244.0,227.1 L244.2,225.5 L244.3,223.8 L244.4,222.0 L244.5,220.1 L244.6,218.1 L244.7,216.0 L244.8,213.8 L244.9,211.5 L245.1,209.1 L245.2,206.3 L245.3,202.7 L245.4,199.9 L245.5,197.5 L245.6,195.2 L245.7,193.0 L245.8,190.9 L246.0,188.9 L246.1,187.0 L246.2,185.2 L246.3,183.5 L246.4,181.9 L246.5,180.3 L246.6,178.9 L246.7,177.5 L246.9,176.2 L247.0,175.0 L247.1,174.0 L247.2,173.0 L247.3,172.1 L247.4,171.3 L247.5,170.6 L247.6,170.0 L247.8,169.6 L247.9,169.2 L248.0,168.9 L248.1,168.8 L248.2,168.7 M254.2,240.3 L254.3,240.2 L254.4,240.1 L254.5,239.8 L254.6,239.4 L254.7,239.0 L254.8,238.4 L254.9,237.7 L255.0,236.9 L255.2,236.0 L255.3,235.0 L255.4,234.0 L255.5,232.8 L255.6,231.5 L255.7,230.1 L255.8,228.7 L255.9,227.1 L256.1,225.5 L256.2,223.8 L256.3,222.0 L256.4,220.1 L256.5,218.1 L256.6,216.0 L256.7,213.8 L256.8,211.5 L257.0,209.1 L257.1,206.3 L257.2,202.7 L257.3,199.9 L257.4,197.5 L257.5,195.2 L257.6,193.0 L257.7,190.9 L257.9,188.9 L258.0,187.0 L258.1,185.2 L258.2,183.5 L258.3,181.9 L258.4,180.3 L258.5,178.9 L258.6,177.5 L258.8,176.2 L258.9,175.0 L259.0,174.0 L259.1,173.0 L259.2,172.1 L259.3,171.3 L259.4,170.6 L259.5,170.0 L259.7,169.6 L259.8,169.2 L259.9,168.9 L260.0,168.8 L260.1,168.7 M266.1,240.3 L266.2,240.2 L266.3,240.1 L266.4,239.8 L266.5,239.4 L266.6,239.0 L266.7,238.4 L266.8,237.7 L266.9,236.9 L267.1,236.0 L267.2,235.0 L267.3,234.0 L267.4,232.8 L267.5,231.5 L267.6,230.1 L267.7,228.7 L267.8,227.1 L268.0,225.5 L268.1,223.8 L268.2,222.0 L268.3,220.1 L268.4,218.1 L268.5,216.0 L268.6,213.8 L268.7,211.5 L268.9,209.1 L269.0,206.3 L269.1,202.7 L269.2,199.9 L269.3,197.5 L269.4,195.2 L269.5,193.0 L269.6,190.9 L269.8,188.9 L269.9,187.0 L270.0,185.2 L270.1,183.5 L270.2,181.9 L270.3,180.3 L270.4,178.9 L270.5,177.5 L270.7,176.2 L270.8,175.0 L270.9,174.0 L271.0,173.0 L271.1,172.1 L271.2,171.3 L271.3,170.6 L271.4,170.0 L271.6,169.6 L271.7,169.2 L271.8,168.9 L271.9,168.8 L272.0,168.7 M277.9,240.3 L278.1,240.2 L278.2,240.1 L278.3,239.8 L278.4,239.4 L278.5,239.0 L278.6,238.4 L278.7,237.7 L278.8,236.9 L279.0,236.0 L279.1,235.0 L279.2,234.0 L279.3,232.8 L279.4,231.5 L279.5,230.1 L279.6,228.7 L279.7,227.1 L279.9,225.5 L280.0,223.8 L280.1,222.0 L280.2,220.1 L280.3,218.1 L280.4,216.0 L280.5,213.8 L280.6,211.5 L280.8,209.1 L280.9,206.3 L281.0,202.7 L281.1,199.9 L281.2,197.5 L281.3,195.2 L281.4,193.0 L281.5,190.9 L281.7,188.9 L281.8,187.0 L281.9,185.2 L282.0,183.5 L282.1,181.9 L282.2,180.3 L282.3,178.9 L282.4,177.5 L282.6,176.2 L282.7,175.0 L282.8,174.0 L282.9,173.0 L283.0,172.1 L283.1,171.3 L283.2,170.6 L283.3,170.0 L283.5,169.6 L283.6,169.2 L283.7,168.9 L283.8,168.8 L283.9,168.7 M289.9,240.3 L290.0,240.2 L290.1,240.1 L290.2,239.8 L290.3,239.4 L290.4,239.0 L290.5,238.4 L290.6,237.7 L290.7,236.9 L290.9,236.0 L291.0,235.0 L291.1,234.0 L291.2,232.8 L291.3,231.5 L291.4,230.1 L291.5,228.7 L291.6,227.1 L291.8,225.5 L291.9,223.8 L292.0,222.0 L292.1,220.1 L292.2,218.1 L292.3,216.0 L292.4,213.8 L292.5,211.5 L292.7,209.1 L292.8,206.3 L292.9,202.7 L293.0,199.9 L293.1,197.5 L293.2,195.2 L293.3,193.0 L293.4,190.9 L293.6,188.9 L293.7,187.0 L293.8,185.2 L293.9,183.5 L294.0,181.9 L294.1,180.3 L294.2,178.9 L294.3,177.5 L294.5,176.2 L294.6,175.0 L294.7,174.0 L294.8,173.0 L294.9,172.1 L295.0,171.3 L295.1,170.6 L295.2,170.0 L295.4,169.6 L295.5,169.2 L295.6,168.9 L295.7,168.8 L295.8,168.7 M301.8,240.3 L301.9,240.2 L302.0,240.1 L302.1,239.8 L302.2,239.4 L302.3,239.0 L302.4,238.4 L302.5,237.7 L302.6,236.9 L302.8,236.0 L302.9,235.0 L303.0,234.0 L303.1,232.8 L303.2,231.5 L303.3,230.1 L303.4,228.7 L303.5,227.1 L303.7,225.5 L303.8,223.8 L303.9,222.0 L304.0,220.1 L304.1,218.1 L304.2,216.0 L304.3,213.8 L304.4,211.5 L304.6,209.1 L304.7,206.3 L304.8,202.7 L304.9,199.9 L305.0,197.5 L305.1,195.2 L305.2,193.0 L305.3,190.9 L305.5,188.9 L305.6,187.0 L305.7,185.2 L305.8,183.5 L305.9,181.9 L306.0,180.3 L306.1,178.9 L306.2,177.5 L306.4,176.2 L306.5,175.0 L306.6,174.0 L306.7,173.0 L306.8,172.1 L306.9,171.3 L307.0,170.6 L307.1,170.0 L307.3,169.6 L307.4,169.2 L307.5,168.9 L307.6,168.8 L307.7,168.7" stroke="#1cb81c" stroke-width="4.8"/>
  <path d="M218.5,240.3 L218.6,240.2 L218.7,240.1 L218.8,239.8 L218.9,239.4 L219.0,239.0 L219.1,238.4 L219.2,237.7 L219.3,236.9 L219.5,236.0 L219.6,235.0 L219.7,234.0 L219.8,232.8 L219.9,231.5 L220.0,230.1 L220.1,228.7 L220.2,227.1 L220.4,225.5 L220.5,223.8 L220.6,222.0 L220.7,220.1 L220.8,218.1 L220.9,216.0 L221.0,213.8 L221.1,211.5 L221.3,209.1 L221.4,206.3 L221.5,202.7 L221.6,199.9 L221.7,197.5 L221.8,195.2 L221.9,193.0 L222.0,190.9 L222.2,188.9 L222.3,187.0 L222.4,185.2 L222.5,183.5 L222.6,181.9 L222.7,180.3 L222.8,178.9 L222.9,177.5 L223.1,176.2 L223.2,175.0 L223.3,174.0 L223.4,173.0 L223.5,172.1 L223.6,171.3 L223.7,170.6 L223.8,170.0 L224.0,169.6 L224.1,169.2 L224.2,168.9 L224.3,168.8 L224.4,168.7 M230.3,240.3 L230.5,240.2 L230.6,240.1 L230.7,239.8 L230.8,239.4 L230.9,239.0 L231.0,238.4 L231.1,237.7 L231.2,236.9 L231.4,236.0 L231.5,235.0 L231.6,234.0 L231.7,232.8 L231.8,231.5 L231.9,230.1 L232.0,228.7 L232.1,227.1 L232.3,225.5 L232.4,223.8 L232.5,222.0 L232.6,220.1 L232.7,218.1 L232.8,216.0 L232.9,213.8 L233.0,211.5 L233.2,209.1 L233.3,206.3 L233.4,202.7 L233.5,199.9 L233.6,197.5 L233.7,195.2 L233.8,193.0 L233.9,190.9 L234.1,188.9 L234.2,187.0 L234.3,185.2 L234.4,183.5 L234.5,181.9 L234.6,180.3 L234.7,178.9 L234.8,177.5 L235.0,176.2 L235.1,175.0 L235.2,174.0 L235.3,173.0 L235.4,172.1 L235.5,171.3 L235.6,170.6 L235.7,170.0 L235.9,169.6 L236.0,169.2 L236.1,168.9 L236.2,168.8 L236.3,168.7 M242.2,240.3 L242.4,240.2 L242.5,240.1 L242.6,239.8 L242.7,239.4 L242.8,239.0 L242.9,238.4 L243.0,237.7 L243.1,236.9 L243.3,236.0 L243.4,235.0 L243.5,234.0 L243.6,232.8 L243.7,231.5 L243.8,230.1 L243.9,228.7 L244.0,227.1 L244.2,225.5 L244.3,223.8 L244.4,222.0 L244.5,220.1 L244.6,218.1 L244.7,216.0 L244.8,213.8 L244.9,211.5 L245.1,209.1 L245.2,206.3 L245.3,202.7 L245.4,199.9 L245.5,197.5 L245.6,195.2 L245.7,193.0 L245.8,190.9 L246.0,188.9 L246.1,187.0 L246.2,185.2 L246.3,183.5 L246.4,181.9 L246.5,180.3 L246.6,178.9 L246.7,177.5 L246.9,176.2 L247.0,175.0 L247.1,174.0 L247.2,173.0 L247.3,172.1 L247.4,171.3 L247.5,170.6 L247.6,170.0 L247.8,169.6 L247.9,169.2 L248.0,168.9 L248.1,168.8 L248.2,168.7 M254.2,240.3 L254.3,240.2 L254.4,240.1 L254.5,239.8 L254.6,239.4 L254.7,239.0 L254.8,238.4 L254.9,237.7 L255.0,236.9 L255.2,236.0 L255.3,235.0 L255.4,234.0 L255.5,232.8 L255.6,231.5 L255.7,230.1 L255.8,228.7 L255.9,227.1 L256.1,225.5 L256.2,223.8 L256.3,222.0 L256.4,220.1 L256.5,218.1 L256.6,216.0 L256.7,213.8 L256.8,211.5 L257.0,209.1 L257.1,206.3 L257.2,202.7 L257.3,199.9 L257.4,197.5 L257.5,195.2 L257.6,193.0 L257.7,190.9 L257.9,188.9 L258.0,187.0 L258.1,185.2 L258.2,183.5 L258.3,181.9 L258.4,180.3 L258.5,178.9 L258.6,177.5 L258.8,176.2 L258.9,175.0 L259.0,174.0 L259.1,173.0 L259.2,172.1 L259.3,171.3 L259.4,170.6 L259.5,170.0 L259.7,169.6 L259.8,169.2 L259.9,168.9 L260.0,168.8 L260.1,168.7 M266.1,240.3 L266.2,240.2 L266.3,240.1 L266.4,239.8 L266.5,239.4 L266.6,239.0 L266.7,238.4 L266.8,237.7 L266.9,236.9 L267.1,236.0 L267.2,235.0 L267.3,234.0 L267.4,232.8 L267.5,231.5 L267.6,230.1 L267.7,228.7 L267.8,227.1 L268.0,225.5 L268.1,223.8 L268.2,222.0 L268.3,220.1 L268.4,218.1 L268.5,216.0 L268.6,213.8 L268.7,211.5 L268.9,209.1 L269.0,206.3 L269.1,202.7 L269.2,199.9 L269.3,197.5 L269.4,195.2 L269.5,193.0 L269.6,190.9 L269.8,188.9 L269.9,187.0 L270.0,185.2 L270.1,183.5 L270.2,181.9 L270.3,180.3 L270.4,178.9 L270.5,177.5 L270.7,176.2 L270.8,175.0 L270.9,174.0 L271.0,173.0 L271.1,172.1 L271.2,171.3 L271.3,170.6 L271.4,170.0 L271.6,169.6 L271.7,169.2 L271.8,168.9 L271.9,168.8 L272.0,168.7 M277.9,240.3 L278.1,240.2 L278.2,240.1 L278.3,239.8 L278.4,239.4 L278.5,239.0 L278.6,238.4 L278.7,237.7 L278.8,236.9 L279.0,236.0 L279.1,235.0 L279.2,234.0 L279.3,232.8 L279.4,231.5 L279.5,230.1 L279.6,228.7 L279.7,227.1 L279.9,225.5 L280.0,223.8 L280.1,222.0 L280.2,220.1 L280.3,218.1 L280.4,216.0 L280.5,213.8 L280.6,211.5 L280.8,209.1 L280.9,206.3 L281.0,202.7 L281.1,199.9 L281.2,197.5 L281.3,195.2 L281.4,193.0 L281.5,190.9 L281.7,188.9 L281.8,187.0 L281.9,185.2 L282.0,183.5 L282.1,181.9 L282.2,180.3 L282.3,178.9 L282.4,177.5 L282.6,176.2 L282.7,175.0 L282.8,174.0 L282.9,173.0 L283.0,172.1 L283.1,171.3 L283.2,170.6 L283.3,170.0 L283.5,169.6 L283.6,169.2 L283.7,168.9 L283.8,168.8 L283.9,168.7 M289.9,240.3 L290.0,240.2 L290.1,240.1 L290.2,239.8 L290.3,239.4 L290.4,239.0 L290.5,238.4 L290.6,237.7 L290.7,236.9 L290.9,236.0 L291.0,235.0 L291.1,234.0 L291.2,232.8 L291.3,231.5 L291.4,230.1 L291.5,228.7 L291.6,227.1 L291.8,225.5 L291.9,223.8 L292.0,222.0 L292.1,220.1 L292.2,218.1 L292.3,216.0 L292.4,213.8 L292.5,211.5 L292.7,209.1 L292.8,206.3 L292.9,202.7 L293.0,199.9 L293.1,197.5 L293.2,195.2 L293.3,193.0 L293.4,190.9 L293.6,188.9 L293.7,187.0 L293.8,185.2 L293.9,183.5 L294.0,181.9 L294.1,180.3 L294.2,178.9 L294.3,177.5 L294.5,176.2 L294.6,175.0 L294.7,174.0 L294.8,173.0 L294.9,172.1 L295.0,171.3 L295.1,170.6 L295.2,170.0 L295.4,169.6 L295.5,169.2 L295.6,168.9 L295.7,168.8 L295.8,168.7 M301.8,240.3 L301.9,240.2 L302.0,240.1 L302.1,239.8 L302.2,239.4 L302.3,239.0 L302.4,238.4 L302.5,237.7 L302.6,236.9 L302.8,236.0 L302.9,235.0 L303.0,234.0 L303.1,232.8 L303.2,231.5 L303.3,230.1 L303.4,228.7 L303.5,227.1 L303.7,225.5 L303.8,223.8 L303.9,222.0 L304.0,220.1 L304.1,218.1 L304.2,216.0 L304.3,213.8 L304.4,211.5 L304.6,209.1 L304.7,206.3 L304.8,202.7 L304.9,199.9 L305.0,197.5 L305.1,195.2 L305.2,193.0 L305.3,190.9 L305.5,188.9 L305.6,187.0 L305.7,185.2 L305.8,183.5 L305.9,181.9 L306.0,180.3 L306.1,178.9 L306.2,177.5 L306.4,176.2 L306.5,175.0 L306.6,174.0 L306.7,173.0 L306.8,172.1 L306.9,171.3 L307.0,170.6 L307.1,170.0 L307.3,169.6 L307.4,169.2 L307.5,168.9 L307.6,168.8 L307.7,168.7" stroke="#0e800e" stroke-width="1.4" transform="translate(1.5,0)"/>
  <path d="M218.5,240.3 L218.6,240.2 L218.7,240.1 L218.8,239.8 L218.9,239.4 L219.0,239.0 L219.1,238.4 L219.2,237.7 L219.3,236.9 L219.5,236.0 L219.6,235.0 L219.7,234.0 L219.8,232.8 L219.9,231.5 L220.0,230.1 L220.1,228.7 L220.2,227.1 L220.4,225.5 L220.5,223.8 L220.6,222.0 L220.7,220.1 L220.8,218.1 L220.9,216.0 L221.0,213.8 L221.1,211.5 L221.3,209.1 L221.4,206.3 L221.5,202.7 L221.6,199.9 L221.7,197.5 L221.8,195.2 L221.9,193.0 L222.0,190.9 L222.2,188.9 L222.3,187.0 L222.4,185.2 L222.5,183.5 L222.6,181.9 L222.7,180.3 L222.8,178.9 L222.9,177.5 L223.1,176.2 L223.2,175.0 L223.3,174.0 L223.4,173.0 L223.5,172.1 L223.6,171.3 L223.7,170.6 L223.8,170.0 L224.0,169.6 L224.1,169.2 L224.2,168.9 L224.3,168.8 L224.4,168.7 M230.3,240.3 L230.5,240.2 L230.6,240.1 L230.7,239.8 L230.8,239.4 L230.9,239.0 L231.0,238.4 L231.1,237.7 L231.2,236.9 L231.4,236.0 L231.5,235.0 L231.6,234.0 L231.7,232.8 L231.8,231.5 L231.9,230.1 L232.0,228.7 L232.1,227.1 L232.3,225.5 L232.4,223.8 L232.5,222.0 L232.6,220.1 L232.7,218.1 L232.8,216.0 L232.9,213.8 L233.0,211.5 L233.2,209.1 L233.3,206.3 L233.4,202.7 L233.5,199.9 L233.6,197.5 L233.7,195.2 L233.8,193.0 L233.9,190.9 L234.1,188.9 L234.2,187.0 L234.3,185.2 L234.4,183.5 L234.5,181.9 L234.6,180.3 L234.7,178.9 L234.8,177.5 L235.0,176.2 L235.1,175.0 L235.2,174.0 L235.3,173.0 L235.4,172.1 L235.5,171.3 L235.6,170.6 L235.7,170.0 L235.9,169.6 L236.0,169.2 L236.1,168.9 L236.2,168.8 L236.3,168.7 M242.2,240.3 L242.4,240.2 L242.5,240.1 L242.6,239.8 L242.7,239.4 L242.8,239.0 L242.9,238.4 L243.0,237.7 L243.1,236.9 L243.3,236.0 L243.4,235.0 L243.5,234.0 L243.6,232.8 L243.7,231.5 L243.8,230.1 L243.9,228.7 L244.0,227.1 L244.2,225.5 L244.3,223.8 L244.4,222.0 L244.5,220.1 L244.6,218.1 L244.7,216.0 L244.8,213.8 L244.9,211.5 L245.1,209.1 L245.2,206.3 L245.3,202.7 L245.4,199.9 L245.5,197.5 L245.6,195.2 L245.7,193.0 L245.8,190.9 L246.0,188.9 L246.1,187.0 L246.2,185.2 L246.3,183.5 L246.4,181.9 L246.5,180.3 L246.6,178.9 L246.7,177.5 L246.9,176.2 L247.0,175.0 L247.1,174.0 L247.2,173.0 L247.3,172.1 L247.4,171.3 L247.5,170.6 L247.6,170.0 L247.8,169.6 L247.9,169.2 L248.0,168.9 L248.1,168.8 L248.2,168.7 M254.2,240.3 L254.3,240.2 L254.4,240.1 L254.5,239.8 L254.6,239.4 L254.7,239.0 L254.8,238.4 L254.9,237.7 L255.0,236.9 L255.2,236.0 L255.3,235.0 L255.4,234.0 L255.5,232.8 L255.6,231.5 L255.7,230.1 L255.8,228.7 L255.9,227.1 L256.1,225.5 L256.2,223.8 L256.3,222.0 L256.4,220.1 L256.5,218.1 L256.6,216.0 L256.7,213.8 L256.8,211.5 L257.0,209.1 L257.1,206.3 L257.2,202.7 L257.3,199.9 L257.4,197.5 L257.5,195.2 L257.6,193.0 L257.7,190.9 L257.9,188.9 L258.0,187.0 L258.1,185.2 L258.2,183.5 L258.3,181.9 L258.4,180.3 L258.5,178.9 L258.6,177.5 L258.8,176.2 L258.9,175.0 L259.0,174.0 L259.1,173.0 L259.2,172.1 L259.3,171.3 L259.4,170.6 L259.5,170.0 L259.7,169.6 L259.8,169.2 L259.9,168.9 L260.0,168.8 L260.1,168.7 M266.1,240.3 L266.2,240.2 L266.3,240.1 L266.4,239.8 L266.5,239.4 L266.6,239.0 L266.7,238.4 L266.8,237.7 L266.9,236.9 L267.1,236.0 L267.2,235.0 L267.3,234.0 L267.4,232.8 L267.5,231.5 L267.6,230.1 L267.7,228.7 L267.8,227.1 L268.0,225.5 L268.1,223.8 L268.2,222.0 L268.3,220.1 L268.4,218.1 L268.5,216.0 L268.6,213.8 L268.7,211.5 L268.9,209.1 L269.0,206.3 L269.1,202.7 L269.2,199.9 L269.3,197.5 L269.4,195.2 L269.5,193.0 L269.6,190.9 L269.8,188.9 L269.9,187.0 L270.0,185.2 L270.1,183.5 L270.2,181.9 L270.3,180.3 L270.4,178.9 L270.5,177.5 L270.7,176.2 L270.8,175.0 L270.9,174.0 L271.0,173.0 L271.1,172.1 L271.2,171.3 L271.3,170.6 L271.4,170.0 L271.6,169.6 L271.7,169.2 L271.8,168.9 L271.9,168.8 L272.0,168.7 M277.9,240.3 L278.1,240.2 L278.2,240.1 L278.3,239.8 L278.4,239.4 L278.5,239.0 L278.6,238.4 L278.7,237.7 L278.8,236.9 L279.0,236.0 L279.1,235.0 L279.2,234.0 L279.3,232.8 L279.4,231.5 L279.5,230.1 L279.6,228.7 L279.7,227.1 L279.9,225.5 L280.0,223.8 L280.1,222.0 L280.2,220.1 L280.3,218.1 L280.4,216.0 L280.5,213.8 L280.6,211.5 L280.8,209.1 L280.9,206.3 L281.0,202.7 L281.1,199.9 L281.2,197.5 L281.3,195.2 L281.4,193.0 L281.5,190.9 L281.7,188.9 L281.8,187.0 L281.9,185.2 L282.0,183.5 L282.1,181.9 L282.2,180.3 L282.3,178.9 L282.4,177.5 L282.6,176.2 L282.7,175.0 L282.8,174.0 L282.9,173.0 L283.0,172.1 L283.1,171.3 L283.2,170.6 L283.3,170.0 L283.5,169.6 L283.6,169.2 L283.7,168.9 L283.8,168.8 L283.9,168.7 M289.9,240.3 L290.0,240.2 L290.1,240.1 L290.2,239.8 L290.3,239.4 L290.4,239.0 L290.5,238.4 L290.6,237.7 L290.7,236.9 L290.9,236.0 L291.0,235.0 L291.1,234.0 L291.2,232.8 L291.3,231.5 L291.4,230.1 L291.5,228.7 L291.6,227.1 L291.8,225.5 L291.9,223.8 L292.0,222.0 L292.1,220.1 L292.2,218.1 L292.3,216.0 L292.4,213.8 L292.5,211.5 L292.7,209.1 L292.8,206.3 L292.9,202.7 L293.0,199.9 L293.1,197.5 L293.2,195.2 L293.3,193.0 L293.4,190.9 L293.6,188.9 L293.7,187.0 L293.8,185.2 L293.9,183.5 L294.0,181.9 L294.1,180.3 L294.2,178.9 L294.3,177.5 L294.5,176.2 L294.6,175.0 L294.7,174.0 L294.8,173.0 L294.9,172.1 L295.0,171.3 L295.1,170.6 L295.2,170.0 L295.4,169.6 L295.5,169.2 L295.6,168.9 L295.7,168.8 L295.8,168.7 M301.8,240.3 L301.9,240.2 L302.0,240.1 L302.1,239.8 L302.2,239.4 L302.3,239.0 L302.4,238.4 L302.5,237.7 L302.6,236.9 L302.8,236.0 L302.9,235.0 L303.0,234.0 L303.1,232.8 L303.2,231.5 L303.3,230.1 L303.4,228.7 L303.5,227.1 L303.7,225.5 L303.8,223.8 L303.9,222.0 L304.0,220.1 L304.1,218.1 L304.2,216.0 L304.3,213.8 L304.4,211.5 L304.6,209.1 L304.7,206.3 L304.8,202.7 L304.9,199.9 L305.0,197.5 L305.1,195.2 L305.2,193.0 L305.3,190.9 L305.5,188.9 L305.6,187.0 L305.7,185.2 L305.8,183.5 L305.9,181.9 L306.0,180.3 L306.1,178.9 L306.2,177.5 L306.4,176.2 L306.5,175.0 L306.6,174.0 L306.7,173.0 L306.8,172.1 L306.9,171.3 L307.0,170.6 L307.1,170.0 L307.3,169.6 L307.4,169.2 L307.5,168.9 L307.6,168.8 L307.7,168.7" stroke="#70f470" stroke-width="1.1" transform="translate(-0.9,0)"/>
  <path d="M217.6,168.5 L217.6,240.5" stroke="#062406" stroke-width="6.6"/>
  <path d="M217.6,168.5 L217.6,240.5" stroke="#1cb81c" stroke-width="4.8"/>
  <path d="M216.8,169 L216.8,240" stroke="#70f470" stroke-width="1"/>
  <rect x="215" y="183" width="4" height="3" fill="#062406"/>
  <path d="M313.2,168.5 L313.2,240.5" stroke="#062406" stroke-width="3.4"/>
  <path d="M312.9,168.5 L312.9,240.5" stroke="#1cb81c" stroke-width="1.6"/>
</g>

<!-- ===== Piston ===== -->
<g id="piston">
  <rect x="469" y="166" width="6.4" height="80.4" rx="2.2" fill="url(#gBlk)"/>
  <path d="M474.6,168 L474.6,244.4" stroke="#555" stroke-width="0.6"/>
  <rect x="462" y="160.5" width="10" height="91.5" rx="3.2" fill="url(#gBlk)"/>
  <path d="M471.2,163 L471.2,249.5" stroke="#4a4a4a" stroke-width="0.7"/>
  <rect x="365.7" y="154.3" width="98.5" height="101" rx="3.5" fill="url(#gGold)" stroke="#2a1a02" stroke-width="1"/>
  <path d="M368.7,156 L368.7,254" stroke="#5a3a06" stroke-width="1"/>
  <path d="M458.5,156 L458.5,254" stroke="#5a3a06" stroke-width="1"/>
</g>

<!-- ===== Cap sealing O-ring ===== -->
<rect x="557.1" y="140" width="8" height="127.5" rx="4" fill="url(#gRing)" stroke="#111" stroke-width="0.8"/>

<!-- ===== Flange O-rings ===== -->
<rect x="880" y="121" width="10.2" height="166.8" rx="5.1" fill="url(#gRing)" stroke="#111" stroke-width="0.8"/>
<rect x="925.4" y="161.4" width="10.8" height="87.4" rx="5.4" fill="url(#gRing)" stroke="#111" stroke-width="0.8"/>

<!-- ===== BOV body ===== -->
<!--BOV--><g id="bov">
  <!-- outlet -->
  <path d="M773,154.3 L795,161.5 L809.5,161.5 L809.5,247.7 L795,247.7 L773,254.9 Z" fill="url(#gBov)"/>
  <path d="M776.2,155.4 L776.2,253.8" stroke="#0c0c0c" stroke-width="1"/>
  <path d="M795,161.8 L795,247.4" stroke="#0c0c0c" stroke-width="1.1"/>
  <rect x="809" y="156.3" width="11.5" height="96.6" rx="2.4" fill="url(#gBov)"/>
  <path d="M809.8,157.5 L809.8,251.7" stroke="#0a0a0a" stroke-width="1.2"/>
  <path d="M811.6,158 L811.6,251.2" stroke="#484848" stroke-width="0.7"/>
  <path d="M818.6,158 L818.6,251.2" stroke="#5a5a5a" stroke-width="0.8"/>
  <!-- left cylinder -->
  <path d="M631,149 L640,142.3 L669,142.3 L676.6,147.2 L684.7,147.2 L684.7,142.3 L705,142.3 L705,266.9 L684.7,266.9 L684.7,262 L676.6,262 L669,266.9 L640,266.9 L631,260.2 Z" fill="url(#gBov)"/>
  <path d="M640,142.5 L640,266.7" stroke="#0a0a0a" stroke-width="1.2"/>
  <path d="M669,142.5 L669,266.7" stroke="#0a0a0a" stroke-width="1.2"/>
  <path d="M676.6,147.5 L676.6,262" stroke="#4a4a4a" stroke-width="0.9"/>
  <path d="M684.7,142.5 L684.7,266.7" stroke="#0a0a0a" stroke-width="1.2"/>
  <path d="M700,142.5 L700,266.7" stroke="#0a0a0a" stroke-width="1.2"/>
  <!-- middle body -->
  <path d="M703,135 Q703,132.8 705,132.8 Q734,140 756,130 L756,279.2 Q734,269.2 705,276.4 Q703,276.4 703,274.2 Z" fill="url(#gBody)"/>
  <path d="M703,135 Q703,132.8 705,132.8 Q734,140 756,130 L756,279.2 Q734,269.2 705,276.4 Q703,276.4 703,274.2 Z" fill="url(#gBodyR)"/>
  <path d="M704,134 L704,275.5" stroke="#080808" stroke-width="1.2"/>
  <path d="M706.2,134 L706.2,275.5" stroke="#3e3e3e" stroke-width="0.8"/>
  <!-- top slot -->
  <path d="M719.8,137.4 Q730.8,138.6 741.8,137.2 L741.8,169 Q741.8,180.1 730.8,180.1 Q719.8,180.1 719.8,169 Z" fill="url(#gHole)" stroke="#070707" stroke-width="1.1"/>
  <path d="M719.8,137.4 Q730.8,138.6 741.8,137.2 L741.8,154.6 L719.8,154.6 Z" fill="url(#gLip)"/>
  <path d="M719.8,154.6 L741.8,154.6" stroke="#050505" stroke-width="1.2"/>
  <!-- bottom slot -->
  <path d="M719.8,271.8 Q730.8,270.6 741.8,272 L741.8,240.2 Q741.8,229.1 730.8,229.1 Q719.8,229.1 719.8,240.2 Z" fill="url(#gHole2)" stroke="#070707" stroke-width="1.1"/>
  <path d="M719.8,271.8 Q730.8,270.6 741.8,272 L741.8,254.3 L719.8,254.3 Z" fill="url(#gLip)"/>
  <path d="M719.8,254.3 L741.8,254.3" stroke="#050505" stroke-width="1.2"/>
  <!-- flange -->
  <rect x="756" y="93.8" width="18.2" height="221.5" rx="2.6" fill="url(#gFl)"/>
  <rect x="757" y="95" width="16" height="5.2" fill="#333"/>
  <path d="M757,98.6 L773,98.6" stroke="#5a5a5a" stroke-width="0.7"/>
  <rect x="758" y="184.8" width="15" height="39.9" fill="url(#gBump)"/>
  <g stroke="#0a0a0a" stroke-width="1">
    <path d="M756.5,100.5 L773.5,100.5 M756.5,111.7 L773.5,111.7 M756.5,164.2 L773.5,164.2 M756.5,184.8 L773.5,184.8 M756.5,224.7 L773.5,224.7 M756.5,244 L773.5,244 M756.5,297.4 L773.5,297.4 M756.5,308.8 L773.5,308.8"/>
    <path d="M758.3,95 L758.3,314"/>
  </g>
  <path d="M773.4,96 L773.4,313" stroke="#8a8a8a" stroke-width="0.7"/>
</g>
<!--/BOV-->
<!-- ===== Leader lines ===== -->
<g stroke="#333" stroke-width="1.15" fill="none">
  <polyline points="146,41.9 122.7,41.9 98.2,139"/>
  <polyline points="443,90.2 421.4,90.2 406.6,150"/>
  <polyline points="334.6,329.4 312.6,329.4 277.5,243"/>
  <polyline points="616.3,361.6 593.5,361.6 563,269"/>
  <polyline points="717.4,54.2 740.4,54.2 756.1,98"/>
  <polyline points="845,22.3 866.7,22.3 884.4,121"/>
  <polyline points="866.7,22.3 931.4,173"/>
</g>
<path d="M405.2,154.3 L404.4,147 L409.6,148.6 Z" fill="#222"/>
<path d="M756.4,98.6 L753.6,93.2 L757.4,93.6 Z" fill="#222"/>

</svg>
</body></html>
